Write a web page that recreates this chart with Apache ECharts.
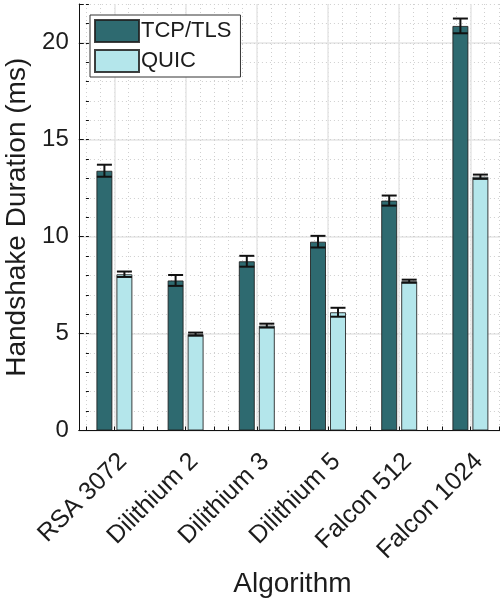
<!DOCTYPE html>
<html>
<head>
<meta charset="utf-8">
<script src="https://cdn.jsdelivr.net/npm/echarts@6/dist/echarts.min.js"></script>
<style>
html,body{margin:0;padding:0;background:#fff;overflow:hidden;}
#chart{width:500px;height:602px;}
</style>
</head>
<body>
<div id="chart"></div>
<script>
// ---- data ----
const categories = ['RSA 3072', 'Dilithium 2', 'Dilithium 3', 'Dilithium 5', 'Falcon 512', 'Falcon 1024'];
const seriesNames = ['TCP/TLS', 'QUIC'];
const tcpTls = [13.40, 7.74, 8.73, 9.74, 11.86, 20.87];
const tcpTlsErr = [0.31, 0.28, 0.28, 0.30, 0.26, 0.38];
const quic = [8.06, 4.97, 5.41, 6.10, 7.70, 13.09];
const quicErr = [0.14, 0.08, 0.10, 0.23, 0.08, 0.11];
const yTicks = [0, 5, 10, 15, 20];

// ---- layout ----
const L = 78.8, unit = 71.2, TOP = 4, BOTTOM = 171.5;
const plotW = 6 * unit;
const FONT = 'Liberation Sans, Arial, Helvetica, sans-serif';
const TXT = '#1c1c1c';
const C_TCP = '#2e6a70', C_QUIC = '#b4e6eb';

function gridAt(shiftPx) {
  return { left: L + shiftPx, width: plotW, top: TOP, bottom: BOTTOM, containLabel: false, outerBoundsMode: 'none' };
}

const chart = echarts.init(document.getElementById('chart'), null, { renderer: 'canvas', width: 500, height: 602 });

function errItem(offset) {
  return function (params, api) {
    const idx = api.value(0);
    const v = api.value(1), e = api.value(2);
    const top = api.coord([idx, v + e]);
    const bot = api.coord([idx, v - e]);
    const x = top[0] + offset;
    const hw = 7.5;
    const st = { stroke: '#111', lineWidth: 2 };
    return {
      type: 'group',
      children: [
        { type: 'line', shape: { x1: x, y1: top[1], x2: x, y2: bot[1] }, style: st },
        { type: 'line', shape: { x1: x - hw, y1: top[1], x2: x + hw, y2: top[1] }, style: st },
        { type: 'line', shape: { x1: x - hw, y1: bot[1], x2: x + hw, y2: bot[1] }, style: st }
      ]
    };
  };
}

const option = {
  animation: false,
  backgroundColor: '#fff',
  textStyle: { fontFamily: FONT },
  grid: [gridAt(0), gridAt(0.1 * unit), gridAt(0.5 * unit), gridAt(0.5 * unit + 8.5)],
  legend: {
    data: seriesNames,
    orient: 'vertical',
    left: 90, top: 15,
    itemWidth: 44, itemHeight: 22, itemGap: 6,
    padding: [4, 9, 4, 4],
    borderColor: '#333', borderWidth: 1, backgroundColor: '#fff',
    icon: 'rect',
    textStyle: { fontSize: 22, color: TXT, fontFamily: FONT, padding: [0, 0, 0, -3] },
    z: 10
  },
  xAxis: [
    { // main category axis
      type: 'category', gridIndex: 0, data: categories, boundaryGap: true,
      axisLine: { show: true, lineStyle: { color: '#111', width: 1 } },
      axisTick: { show: false },
      splitLine: { show: false },
      axisLabel: { show: false },
      name: 'Algorithm', nameLocation: 'middle', nameGap: 140,
      nameTextStyle: { fontSize: 28, color: TXT, fontFamily: FONT }
    },
    { // minor vertical grid + ticks
      type: 'value', gridIndex: 1, min: 0.6, max: 6.6, interval: 0.2,
      axisLine: { show: false },
      axisTick: { show: true, inside: true, length: 4, lineStyle: { color: '#111' } },
      axisLabel: { show: false },
      splitLine: { show: true, lineStyle: { color: '#cfcfcf', type: [1, 3], width: 1 } }
    },
    { // major vertical grid
      type: 'value', gridIndex: 2, min: 1, max: 7, interval: 1,
      axisLine: { show: false }, axisTick: { show: false }, axisLabel: { show: false },
      splitLine: { show: true, lineStyle: { color: '#e6e6e6', width: 1.5 } }
    },
    { // category labels (anchored like the original, at the tick's right)
      type: 'value', gridIndex: 3, min: 1, max: 7, interval: 1,
      axisLine: { show: false }, axisTick: { show: false }, splitLine: { show: false },
      axisLabel: {
        show: true, rotate: 45, fontSize: 25, color: TXT, margin: 27, fontFamily: FONT,
        showMaxLabel: false,
        formatter: v => (categories[v - 1] !== undefined ? categories[v - 1] : '')
      }
    }
  ],
  yAxis: [
    {
      type: 'value', gridIndex: 0, min: 0, max: 22, interval: 5,
      axisLine: { show: true, lineStyle: { color: '#111', width: 1 } },
      axisTick: { show: true, inside: true, length: 5, lineStyle: { color: '#111' } },
      axisLabel: {
        fontSize: 24, color: TXT, margin: 10, fontFamily: FONT, padding: [4, 0, 0, 0],
        formatter: v => (yTicks.indexOf(v) >= 0 ? String(v) : '')
      },
      splitLine: { show: true, showMaxLine: false, lineStyle: { color: '#e6e6e6', width: 1.5 } },
      name: 'Handshake Duration (ms)', nameLocation: 'middle', nameGap: 42, nameRotate: 90,
      nameTextStyle: { fontSize: 28, color: TXT, fontFamily: FONT }
    },
    {
      type: 'value', gridIndex: 1, min: 0, max: 22, interval: 1,
      axisLine: { show: false },
      axisTick: { show: true, inside: true, length: 3, lineStyle: { color: '#111' } },
      axisLabel: { show: false },
      splitLine: { show: true, showMinLine: false, lineStyle: { color: '#cfcfcf', type: [1, 3], width: 1 } }
    },
    { type: 'value', gridIndex: 2, min: 0, max: 22, interval: 1, show: false, splitLine: { show: false } },
    { type: 'value', gridIndex: 3, min: 0, max: 22, interval: 1, show: false, splitLine: { show: false } }
  ],
  series: [
    {
      name: seriesNames[0], type: 'bar', xAxisIndex: 0, yAxisIndex: 0,
      data: tcpTls, barWidth: 16, barGap: '25%',
      itemStyle: { color: C_TCP, borderColor: 'rgba(30,30,30,0.85)', borderWidth: 1 }, z: 3
    },
    {
      name: seriesNames[1], type: 'bar', xAxisIndex: 0, yAxisIndex: 0,
      data: quic, barWidth: 16, barGap: '25%',
      itemStyle: { color: C_QUIC, borderColor: 'rgba(30,30,30,0.85)', borderWidth: 1 }, z: 3
    },
    {
      name: 'errTcp', type: 'custom', xAxisIndex: 0, yAxisIndex: 0, z: 5,
      renderItem: errItem(-10),
      data: tcpTls.map((v, i) => [i, v, tcpTlsErr[i]])
    },
    {
      name: 'errQuic', type: 'custom', xAxisIndex: 0, yAxisIndex: 0, z: 5,
      renderItem: errItem(10),
      data: quic.map((v, i) => [i, v, quicErr[i]])
    }
  ]
};
chart.setOption(option);
</script>
</body>
</html>
